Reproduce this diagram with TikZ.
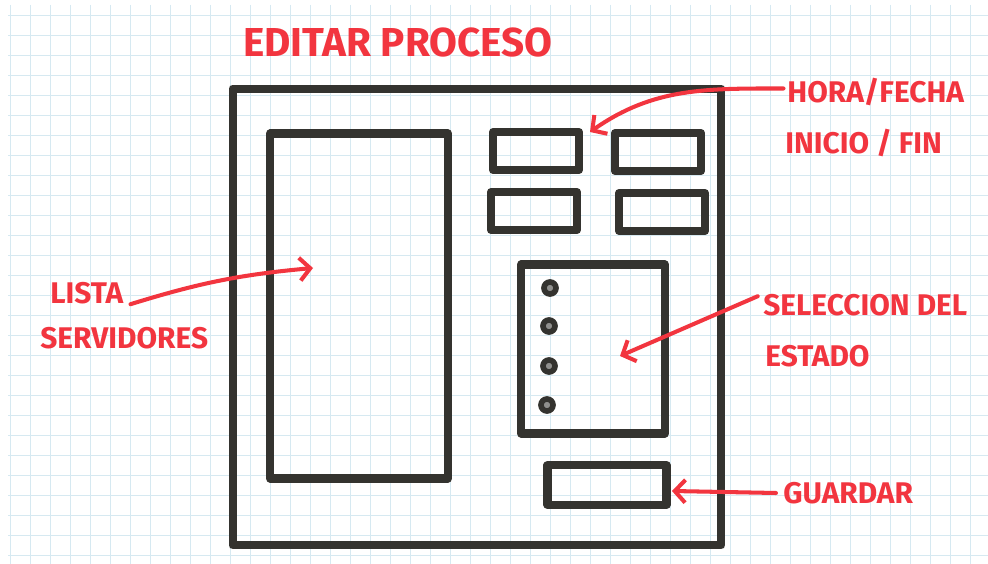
\documentclass[tikz,border=0pt]{standalone}
\usepackage{fontspec}
\setmainfont{Fira Sans}
\usepackage{xcolor}
\usepackage{tikz}
\usetikzlibrary{positioning,arrows.meta}
\definecolor{marker}{HTML}{34332F}
\definecolor{redpen}{HTML}{F2353F}
\definecolor{gridblue}{HTML}{D6E9F1}
\tikzset{
    sketchbox/.style={rectangle, draw=marker, line width=4.6pt, line join=round, inner sep=0pt},
    field/.style={sketchbox, minimum width=1.72cm, minimum height=0.76cm},
    radio/.style={circle, draw=marker, fill=marker!55, line width=3.2pt, minimum size=0.24cm, inner sep=0pt},
    notetext/.style={text=redpen, font=\fontsize{17}{20}\selectfont\bfseries, anchor=west, inner sep=0pt},
    penarrow/.style={-{Straight Barb[length=6pt, width=13pt]}, line width=2.3pt, color=redpen, line cap=round},
    gridline/.style={gridblue, line width=0.5pt}
}

\begin{document}
\begin{tikzpicture}[x=0.02cm, y=-0.02cm]

\useasboundingbox[fill=white] (0,0) rectangle (988,564);

% paper grid
\foreach \gx in {10,30,...,990} \draw[gridline] (\gx,5) -- (\gx,564);
\foreach \gy in {15,35,...,564} \draw[gridline] (8,\gy) -- (988,\gy);

\node[notetext, font=\fontsize{23}{26}\selectfont\bfseries] (title) at (243,43) {EDITAR PROCESO};

% window
\node[sketchbox, minimum width=9.78cm, minimum height=9.14cm] (frame) at (477,317) {};
\node[sketchbox, minimum width=3.56cm, minimum height=6.9cm] (listbox) at (359,306) {};

\node[field] (startdate) at (536,151) {};
\node[field] (enddate) at (658,152) {};
\node[field] (starttime) at (534,211) {};
\node[field] (endtime) at (662,212) {};

\node[sketchbox, minimum width=2.88cm, minimum height=3.38cm] (statusbox) at (593,349) {};
\node[radio] (radioA) at (550,288) {};
\node[radio] (radioB) at (549,326) {};
\node[radio] (radioC) at (549,366) {};
\node[radio] (radioD) at (547,405) {};

\node[sketchbox, minimum width=2.38cm, minimum height=0.8cm] (savebtn) at (607,485) {};

% notes
\node[notetext] (hora) at (787,92) {HORA/FECHA};
\node[notetext] (inicio) at (785,143) {INICIO / FIN};
\node[notetext] (lista) at (50,293) {LISTA};
\node[notetext] (servidores) at (40,338) {SERVIDORES};
\node[notetext] (seleccion) at (763,305) {SELECCION DEL};
\node[notetext] (estado) at (765,356) {ESTADO};
\node[notetext] (guardar) at (783,493) {GUARDAR};

\coordinate (horatip) at (590,132);
\coordinate (listatip) at (313,268);
\coordinate (estadotip) at (620,356);
\coordinate (guardartip) at (672,491);

\draw[penarrow] ([xshift=-2pt,yshift=2pt]hora.west) to[out=180,in=35] (horatip);
\draw[penarrow] ([xshift=4pt]lista.south east) to[bend left=6] (listatip);
\draw[penarrow] ([xshift=-3pt,yshift=5pt]seleccion.west) -- (estadotip);
\draw[penarrow] ([xshift=-4pt]guardar.west) -- (guardartip);

\end{tikzpicture}
\end{document}
